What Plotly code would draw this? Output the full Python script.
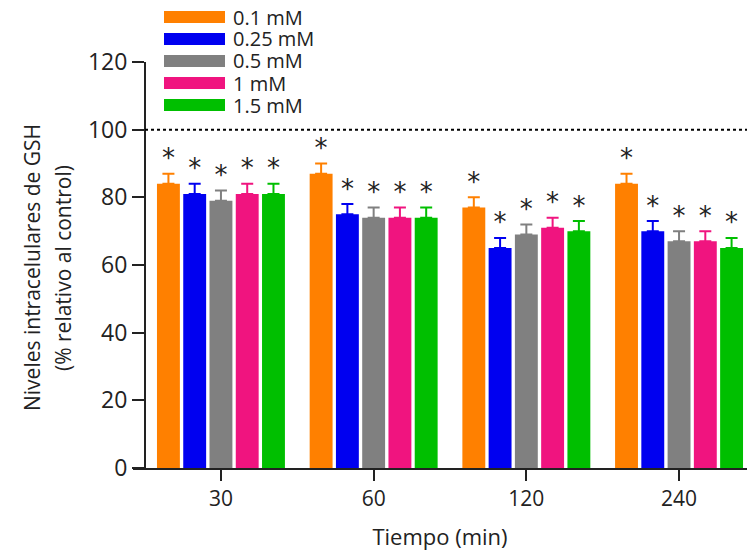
import plotly.graph_objects as go

# Time points (x categories) and concentration series
tiempos = ["30", "60", "120", "240"]
concentraciones = ["0.1 mM", "0.25 mM", "0.5 mM", "1 mM", "1.5 mM"]
colores = ["#FF8000", "#0000F0", "#808080", "#F0147F", "#00BF00"]

# GSH levels (% relative to control) per concentration, one value per time point
gsh_01 = [84, 87, 77, 84]
gsh_025 = [81, 75, 65, 70]
gsh_05 = [79, 74, 69, 67]
gsh_1 = [81, 74, 71, 67]
gsh_15 = [81, 74, 70, 65]

# Standard error (upper bar only)
err_01 = [3, 3, 3, 3]
err_025 = [3, 3, 3, 3]
err_05 = [3, 3, 3, 3]
err_1 = [3, 3, 3, 3]
err_15 = [3, 3, 3, 3]

series = [gsh_01, gsh_025, gsh_05, gsh_1, gsh_15]
errores = [err_01, err_025, err_05, err_1, err_15]

W, H = 747, 552
ML, MR, MT, MB = 133, 0, 62, 84
PW, PH = W - ML - MR, H - MT - MB

FONT = "Open Sans"
TXT = "#222222"
STEP = 0.172      # distance between neighbouring bars in a group
BAR_W = 0.15

fig = go.Figure()

for k, (name, vals, errs, col) in enumerate(zip(concentraciones, series, errores, colores)):
    xs = [i + (k - 2) * STEP for i in range(len(tiempos))]
    fig.add_trace(go.Bar(
        x=xs, y=vals, width=BAR_W, name=name,
        marker=dict(color=col, line=dict(width=0)),
        error_y=dict(type="data", symmetric=False, array=errs,
                     arrayminus=[0] * len(errs), color=col,
                     thickness=2, width=6),
        showlegend=False,
    ))
    # significance marks above each error bar
    fig.add_trace(go.Scatter(
        x=xs, y=[v + e for v, e in zip(vals, errs)],
        mode="text", text=["*"] * len(vals), textposition="top center",
        textfont=dict(family="DejaVu Sans", size=26, color=TXT),
        showlegend=False, hoverinfo="skip",
    ))


def px_x(p):
    return (p - ML) / PW


def px_y(p):
    return (H - MB - p) / PH


shapes = []
annotations = []

# control reference line at 100 %
shapes.append(dict(type="line", xref="paper", yref="y",
                   x0=px_x(145), x1=1, y0=100, y1=100,
                   line=dict(color="black", width=2, dash="dot")))

# legend drawn as wide colour swatches with labels
for k, (name, col) in enumerate(zip(concentraciones, colores)):
    cy = 17 + 22 * k
    shapes.append(dict(type="rect", xref="paper", yref="paper",
                       x0=px_x(164), x1=px_x(225),
                       y0=px_y(cy + 6), y1=px_y(cy - 6),
                       fillcolor=col, line=dict(width=0)))
    annotations.append(dict(xref="paper", yref="paper", x=px_x(231), y=px_y(cy),
                            text=name, showarrow=False, xanchor="left",
                            yanchor="middle",
                            font=dict(family=FONT, size=20, color=TXT)))

# y-axis title (two lines)
annotations.append(dict(xref="paper", yref="paper", x=px_x(32), y=px_y(268),
                        text="Niveles intracelulares de GSH", showarrow=False,
                        textangle=-90, xanchor="center", yanchor="middle",
                        font=dict(family=FONT, size=21, color=TXT)))
annotations.append(dict(xref="paper", yref="paper", x=px_x(63), y=px_y(268),
                        text="(% relativo al control)", showarrow=False,
                        textangle=-90, xanchor="center", yanchor="middle",
                        font=dict(family=FONT, size=21, color=TXT)))

fig.update_layout(
    width=W, height=H,
    margin=dict(l=ML, r=MR, t=MT, b=MB, pad=0),
    plot_bgcolor="white", paper_bgcolor="white",
    barmode="overlay",
    shapes=shapes, annotations=annotations,
    xaxis=dict(
        range=[-0.576, 3.445],
        tickvals=list(range(len(tiempos))), ticktext=tiempos,
        ticks="outside", ticklen=11, tickwidth=2, tickcolor=TXT,
        showline=True, linecolor=TXT, linewidth=2,
        showgrid=False, zeroline=False,
        tickfont=dict(family=FONT, size=21, color=TXT),
        title=dict(text="Tiempo (min)", standoff=18,
                   font=dict(family=FONT, size=22, color=TXT)),
    ),
    yaxis=dict(
        range=[0, 120], tickvals=[0, 20, 40, 60, 80, 100, 120],
        anchor="free", position=px_x(145),
        ticks="outside", ticklen=12, tickwidth=2, tickcolor=TXT,
        showline=True, linecolor=TXT, linewidth=2,
        showgrid=False, zeroline=False,
        tickfont=dict(family=FONT, size=23, color=TXT),
    ),
)

fig.write_html("out.html")
